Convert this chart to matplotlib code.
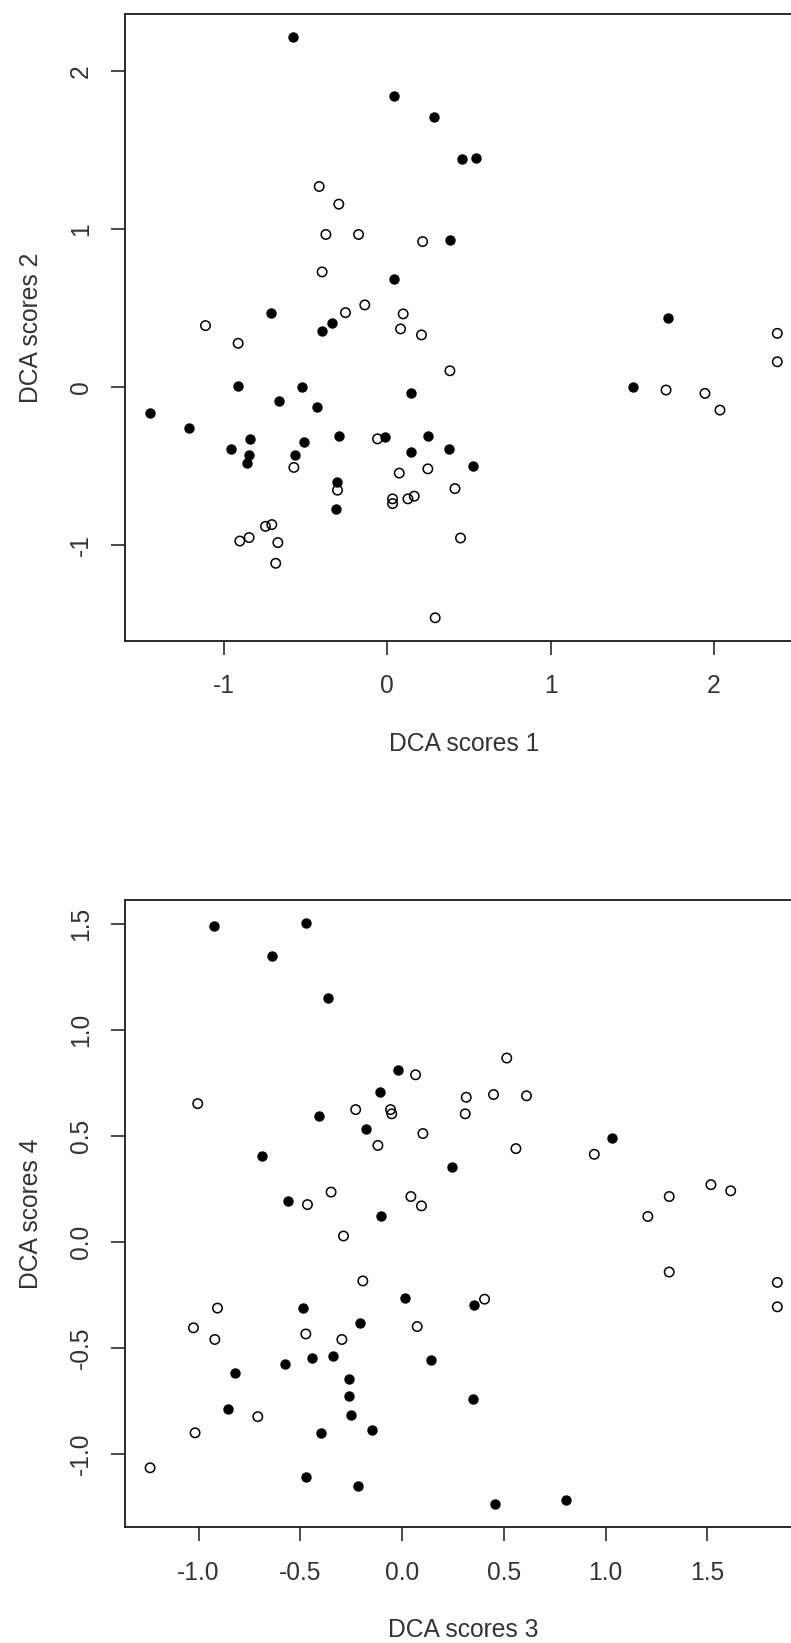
import numpy as np
import matplotlib
matplotlib.use('Agg')
import matplotlib.pyplot as plt

# Оценки DCA по осям 1-4: закрашенные точки - одна группа, пустые - другая
dca1_filled = [-0.579, 0.043, 0.284, 0.457, 0.543, 0.384, 0.043, -0.714, -0.340, -0.398,
               -0.912, -0.524, 0.145, 1.717, 1.507, -0.012, 0.249, 0.145, 0.376, 0.525,
               -1.451, -1.214, -0.661, -0.432, -0.837, -0.957, -0.847, -0.857, -0.506, -0.563,
               -0.294, -0.304, -0.312]
dca2_filled = [2.217, 1.845, 1.712, 1.446, 1.454, 0.934, 0.685, 0.473, 0.410, 0.359,
               0.008, 0.000, -0.038, 0.437, 0.000, -0.317, -0.309, -0.410, -0.393, -0.497,
               -0.163, -0.260, -0.087, -0.123, -0.326, -0.393, -0.429, -0.478, -0.345, -0.429,
               -0.309, -0.601, -0.772]

dca1_open = [-0.416, -0.296, -0.375, -0.175, -0.398, -0.137, -0.255, -1.112, -0.912, 0.217,
             0.098, 0.082, 0.210, 0.384, 2.388, 2.388, 1.707, 1.945, 2.037, 0.074,
             0.249, 0.415, 0.033, 0.033, 0.127, 0.166, 0.449, 0.294, -0.571, -0.059,
             -0.304, -0.706, -0.745, -0.902, -0.845, -0.669, -0.682]
dca2_open = [1.272, 1.160, 0.968, 0.968, 0.731, 0.522, 0.473, 0.391, 0.279, 0.923,
             0.465, 0.370, 0.332, 0.105, 0.342, 0.162, -0.017, -0.038, -0.144, -0.543,
             -0.516, -0.641, -0.706, -0.736, -0.706, -0.689, -0.954, -1.459, -0.507, -0.326,
             -0.651, -0.869, -0.880, -0.973, -0.951, -0.983, -1.114]

dca3_filled = [-0.922, -0.473, -0.640, -0.362, -0.019, -0.108, -0.408, -0.178, -0.686, -0.562,
               -0.105, 1.032, 0.243, -0.489, -0.208, -0.444, -0.341, -0.573, -0.819, -0.260,
               -0.260, -0.857, -0.252, -0.400, -0.147, -0.473, -0.216, 0.015, 0.354, 0.140,
               0.348, 0.456, 0.804]
dca4_filled = [1.489, 1.504, 1.348, 1.149, 0.810, 0.708, 0.596, 0.533, 0.403, 0.192,
               0.120, 0.488, 0.355, -0.312, -0.384, -0.547, -0.539, -0.575, -0.618, -0.648,
               -0.725, -0.788, -0.818, -0.902, -0.887, -1.108, -1.150, -0.263, -0.299, -0.555,
               -0.739, -1.236, -1.215]

dca3_open = [-1.004, -0.228, -0.057, -0.051, -0.119, -0.349, -0.465, 0.066, 0.514, 0.315,
             0.449, 0.611, 0.310, 0.102, 0.559, 0.944, 0.043, 0.095, 1.207, 1.312,
             1.517, 1.614, -0.288, -0.193, -0.907, -1.025, -0.920, -0.473, -0.296, -0.709,
             -1.017, -1.238, 1.312, 1.843, 1.843, 0.405, 0.074]
dca4_open = [0.652, 0.624, 0.624, 0.604, 0.455, 0.235, 0.176, 0.788, 0.867, 0.682,
             0.695, 0.689, 0.604, 0.511, 0.440, 0.413, 0.214, 0.170, 0.120, 0.214,
             0.270, 0.241, 0.028, -0.184, -0.312, -0.405, -0.460, -0.434, -0.460, -0.824,
             -0.900, -1.065, -0.142, -0.191, -0.306, -0.270, -0.399]

top_ticks = [-1, 0, 1, 2]
bottom_ticks = [-1.0, -0.5, 0.0, 0.5, 1.0, 1.5]

plt.rcParams['font.family'] = ['Liberation Sans', 'DejaVu Sans']
plt.rcParams['axes.unicode_minus'] = False

W, H = 791, 1643
fig = plt.figure(figsize=(W / 100, H / 100), dpi=100)
fig.patch.set_facecolor('white')

ink = '#1a1a1a'
txt = '#333333'


def r_limits(a, b):
    # как в R: диапазон данных плюс 4% с каждой стороны
    v = np.concatenate([np.asarray(a), np.asarray(b)])
    lo, hi = v.min(), v.max()
    pad = 0.04 * (hi - lo)
    return lo - pad, hi + pad


def draw_panel(rect, xf, yf, xo, yo, xlab, ylab, ticks, fmt):
    ax = fig.add_axes(rect)
    ax.scatter(xo, yo, s=46, facecolors='none', edgecolors='black', linewidths=1.1, zorder=3)
    ax.scatter(xf, yf, s=56, color='black', linewidths=0, zorder=3)
    ax.set_xlim(*r_limits(xf, xo))
    ax.set_ylim(*r_limits(yf, yo))
    ax.set_xticks(ticks)
    ax.set_yticks(ticks)
    ax.set_xticklabels([fmt.format(t) for t in ticks])
    ax.set_yticklabels([fmt.format(t) for t in ticks], rotation=90, va='center')
    ax.tick_params(direction='out', length=10, width=1.1, colors=ink,
                   labelsize=17.7, labelcolor=txt)
    ax.tick_params(axis='x', pad=14)
    ax.tick_params(axis='y', pad=13)
    for sp in ax.spines.values():
        sp.set_linewidth(1.3)
        sp.set_color(ink)
    ax.set_xlabel(xlab, fontsize=17.7, color=txt, labelpad=24)
    ax.set_ylabel(ylab, fontsize=17.7, color=txt, labelpad=19)
    return ax


left = 125 / W
width = (802.4 - 125) / W

draw_panel([left, (H - 641) / H, width, 627 / H],
           dca1_filled, dca2_filled, dca1_open, dca2_open,
           'DCA scores 1', 'DCA scores 2', top_ticks, '{:g}')

draw_panel([left, (H - 1527.3) / H, width, 627.6 / H],
           dca3_filled, dca4_filled, dca3_open, dca4_open,
           'DCA scores 3', 'DCA scores 4', bottom_ticks, '{:.1f}')

fig.savefig('out.png', dpi=100)
